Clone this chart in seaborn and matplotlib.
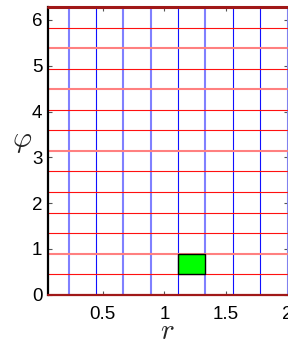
import numpy as np
import pandas as pd
import seaborn as sns
import matplotlib
matplotlib.use("Agg")
import matplotlib.pyplot as plt
from matplotlib.patches import Rectangle

# Grid of the (r, phi) mesh
r_lines = [0.2222, 0.4444, 0.6667, 0.8889, 1.1111, 1.3333, 1.5556, 1.7778, 2.0]
r_light = [True, False, True, True, False, True, False, False, True]
phi_lines = [0.4488, 0.8976, 1.3464, 1.7952, 2.2440, 2.6928, 3.1416,
             3.5904, 4.0392, 4.4880, 4.9368, 5.3856, 5.8344]
phi_light = [False, True, False, False, False, False, True,
             False, False, True, False, True, False]
phi_bounds = [0.0, 6.2832]
# Highlighted cell: r range, phi range
cell_r = [1.1111, 1.3333]
cell_phi = [0.4488, 0.8976]

x_ticks = [0.5, 1.0, 1.5, 2.0]
x_ticklabels = ["0.5", "1", "1.5", "2"]
y_ticks = [0, 1, 2, 3, 4, 5, 6]
y_ticklabels = ["0", "1", "2", "3", "4", "5", "6"]

sns.set_theme(style="white")
plt.rcParams["font.family"] = ["Liberation Sans", "DejaVu Sans"]
plt.rcParams["mathtext.fontset"] = "cm"

fig = plt.figure(figsize=(2.88, 3.45), dpi=100)
W, H = 288, 345
x0, x1 = 48, 287.5
y0, y1 = 294.7, 7
ax = fig.add_axes([x0 / W, 1 - y0 / H, (x1 - x0) / W, (y0 - y1) / H])

df_v = pd.DataFrame({"r": r_lines, "light": r_light})
df_h = pd.DataFrame({"phi": phi_lines, "light": phi_light})

for _, row in df_v.iterrows():
    if row["light"]:
        ax.axvline(row["r"], color="#8080ff", lw=1.5, zorder=2)
    else:
        ax.axvline(row["r"], color="#1010ff", lw=0.8, zorder=2)
for _, row in df_h.iterrows():
    if row["light"]:
        ax.axhline(row["phi"], color="#ff8080", lw=1.5, zorder=2)
    else:
        ax.axhline(row["phi"], color="#ff1010", lw=0.8, zorder=2)
ax.axhline(phi_bounds[0], color="#a01818", lw=1.6, zorder=3, clip_on=False)
ax.axhline(phi_bounds[1], color="#a01818", lw=2.2, zorder=3, clip_on=False)

ax.add_patch(Rectangle((cell_r[0], cell_phi[0]), cell_r[1] - cell_r[0],
                       cell_phi[1] - cell_phi[0], facecolor="#00ff00",
                       edgecolor="black", lw=1.0, zorder=4))

ax.set_xlim(0.0545, 2.0)
ax.set_ylim(phi_bounds[0], phi_bounds[1])
ax.set_xticks(x_ticks)
ax.set_xticklabels(x_ticklabels)
ax.set_yticks(y_ticks)
ax.set_yticklabels(y_ticklabels)
ax.tick_params(axis="both", which="both", direction="in", length=3,
               width=0.8, color="#555555", labelsize=13.5, labelcolor="black",
               top=True, right=True, bottom=True, left=True)
ax.tick_params(axis="x", pad=8)
ax.tick_params(axis="y", pad=4)

ax.spines["left"].set_color("black")
ax.spines["left"].set_linewidth(1.6)
ax.spines["right"].set_color("#8888aa")
ax.spines["right"].set_linewidth(1.0)
ax.spines["top"].set_visible(False)
ax.spines["bottom"].set_visible(False)

fig.text(22 / W, 1 - 141 / H, r"$\varphi$", fontsize=21, ha="center", va="center")
fig.text(167 / W, 1 - 339 / H, r"$r$", fontsize=21, ha="center", va="baseline")

fig.savefig("out.png", dpi=100)
